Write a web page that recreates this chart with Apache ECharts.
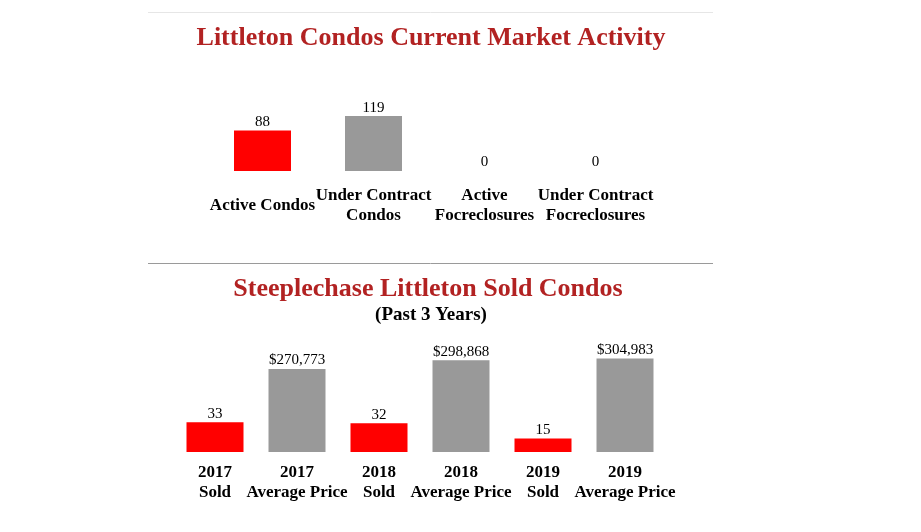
<!DOCTYPE html>
<html>
<head>
<meta charset="utf-8">
<script src="https://cdn.jsdelivr.net/npm/echarts@6/dist/echarts.min.js"></script>
<style>
html,body{margin:0;padding:0;background:#fff;}
#chart{width:921px;height:532px;}
</style>
</head>
<body>
<div id="chart"></div>
<script>
const marketCategories = ['Active Condos', 'Under Contract\nCondos', 'Active\nFocreclosures', 'Under Contract\nFocreclosures'];
const marketValues = [88, 119, 0, 0];
const soldCategories = ['2017\nSold', '2017\nAverage Price', '2018\nSold', '2018\nAverage Price', '2019\nSold', '2019\nAverage Price'];
const soldCounts = [33, null, 32, null, 15, null];
const avgPrices = [null, 270773, null, 298868, null, 304983];

const RED = '#ff0000';
const GRAY = '#999999';
const SERIF = '"Liberation Serif", "Times New Roman", serif';

function money(v) {
  return '$' + Math.round(v).toString().replace(/\B(?=(\d{3})+(?!\d))/g, ',');
}

const chart = echarts.init(document.getElementById('chart'));
const labelStyle = { show: true, position: 'top', distance: 1, color: '#000', fontFamily: SERIF, fontSize: 15 };
const axisLabelStyle = { color: '#000', fontFamily: SERIF, fontWeight: 'bold', fontSize: 17, lineHeight: 20, verticalAlign: 'middle', interval: 0 };

chart.setOption({
  backgroundColor: '#fff',
  animation: false,
  title: [
    { text: 'Littleton Condos Current Market Activity', left: 426, top: 20, textAlign: 'center',
      textStyle: { fontFamily: SERIF, fontWeight: 'bold', fontSize: 26, color: '#b22222' } },
    { text: 'Steeplechase Littleton Sold Condos', left: 423, top: 271, textAlign: 'center',
      textStyle: { fontFamily: SERIF, fontWeight: 'bold', fontSize: 26, color: '#b22222' } },
    { text: '(Past 3 Years)', left: 426, top: 301, textAlign: 'center',
      textStyle: { fontFamily: SERIF, fontWeight: 'bold', fontSize: 19, color: '#000' } }
  ],
  graphic: [
    { type: 'line', shape: { x1: 148, y1: 12.5, x2: 713, y2: 12.5 }, style: { stroke: '#e6e6e6', lineWidth: 1 } },
    { type: 'line', shape: { x1: 148, y1: 263.5, x2: 713, y2: 263.5 }, style: { stroke: '#9a9a9a', lineWidth: 1 } }
  ],
  grid: [
    { left: 207, top: 111, width: 444, height: 60 },
    { left: 174, top: 352, width: 492, height: 100 }
  ],
  xAxis: [
    { type: 'category', gridIndex: 0, data: marketCategories,
      axisLine: { show: false }, axisTick: { show: false },
      axisLabel: Object.assign({}, axisLabelStyle, { margin: 35 }) },
    { type: 'category', gridIndex: 1, data: soldCategories,
      axisLine: { show: false }, axisTick: { show: false },
      axisLabel: Object.assign({}, axisLabelStyle, { margin: 31 }) }
  ],
  yAxis: [
    { type: 'value', gridIndex: 0, min: 0, max: 130, show: false, splitLine: { show: false } },
    { type: 'value', gridIndex: 1, min: 0, max: 111, show: false, splitLine: { show: false } },
    { type: 'value', gridIndex: 1, min: 0, max: 326000, show: false, splitLine: { show: false } }
  ],
  series: [
    { type: 'bar', xAxisIndex: 0, yAxisIndex: 0, barWidth: 57,
      data: marketValues.map((v, i) => ({ value: v, itemStyle: { color: i % 2 === 0 ? RED : GRAY } })),
      label: labelStyle },
    { type: 'bar', xAxisIndex: 1, yAxisIndex: 1, barWidth: 57, barGap: '-100%',
      data: soldCounts.map(v => v === null ? '-' : v),
      itemStyle: { color: RED },
      label: labelStyle },
    { type: 'bar', xAxisIndex: 1, yAxisIndex: 2, barWidth: 57, barGap: '-100%',
      data: avgPrices.map(v => v === null ? '-' : v),
      itemStyle: { color: GRAY },
      label: Object.assign({}, labelStyle, { formatter: p => money(p.value) }) }
  ]
});
</script>
</body>
</html>
